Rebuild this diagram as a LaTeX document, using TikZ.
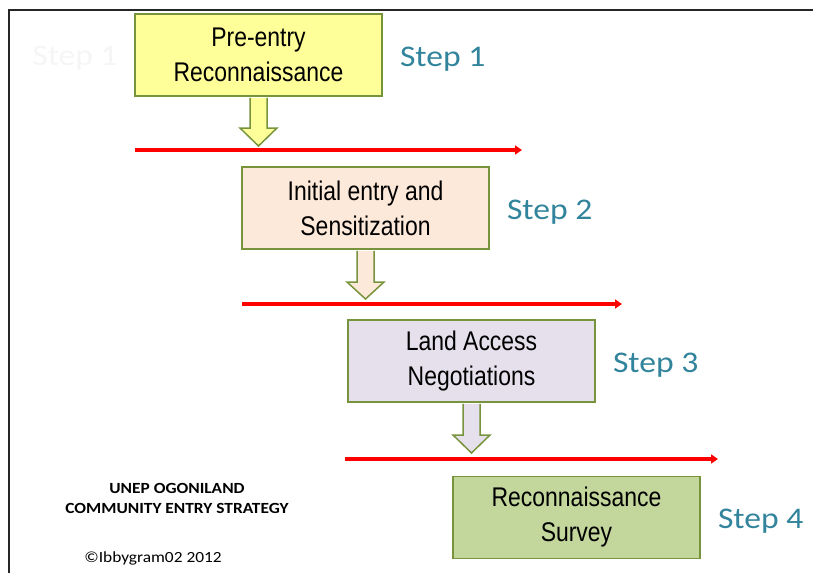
\documentclass[tikz,border=0pt]{standalone}
\usepackage{fontspec}
\setmainfont{Liberation Sans}
\newfontfamily\boxfont[FakeStretch=0.85]{Liberation Sans}
\newfontfamily\stepfont[FakeStretch=1.12]{Carlito}
\usetikzlibrary{positioning, calc, arrows.meta}
\definecolor{boxedge}{HTML}{77933C}
\definecolor{prefill}{HTML}{FFFF99}
\definecolor{initfill}{HTML}{FDE9D9}
\definecolor{landfill}{HTML}{E5E0EC}
\definecolor{surveyfill}{HTML}{C3D69B}
\definecolor{stepblue}{HTML}{31849B}
\tikzstyle{process} = [rectangle, text centered, align=center, draw=boxedge, line width=1.6pt, minimum width=247pt, minimum height=82pt, font=\boxfont\fontsize{27}{35}\selectfont]
\tikzstyle{steplabel} = [text=stepblue, inner sep=2pt, font=\stepfont\fontsize{30}{36}\selectfont]
\tikzstyle{blockarrow} = [draw=boxedge, line width=1.5pt, line join=miter]
\tikzstyle{redline} = [draw=red, line width=3.5pt, -{Triangle[length=7pt,width=9pt]}]

\begin{document}
\begin{tikzpicture}[x=1pt, y=-1pt]
\useasboundingbox (0,0) rectangle (815,573);
% 边框
\draw [line width=1.8pt, black!85] (9,573) -- (9,10) -- (813,10);

% 定义节点
\node (entry) [process, fill=prefill] at (258.5,55) {Pre-entry\\Reconnaissance};
\node (sensit) [process, fill=initfill] at (365.5,208) {Initial entry and\\Sensitization};
\node (nego) [process, fill=landfill] at (471.5,361) {Land Access\\Negotiations};
\node (survey) [process, fill=surveyfill] at (576.5,517.5) {Reconnaissance\\Survey};

\node (step1) [steplabel, right=15pt of entry, yshift=-4pt] {Step 1};
\node (step2) [steplabel, right=15pt of sensit, yshift=-4pt] {Step 2};
\node (step3) [steplabel, right=15pt of nego, yshift=-4pt] {Step 3};
\node (step4) [steplabel, right=15pt of survey, yshift=-4pt] {Step 4};
\node (ghost) [steplabel, text=black!4] at (75,58) {Step 1};

\node (title) [font=\stepfont\bfseries\fontsize{15.5}{20}\selectfont, align=center] at (177,498) {UNEP OGONILAND\\COMMUNITY ENTRY STRATEGY};
\node (credit) [font=\stepfont\fontsize{15.5}{20}\selectfont] at (153,558) {©Ibbygram02 2012};

% 红线
\coordinate (cut1s) at (135,150); \coordinate (cut1e) at (522,150);
\coordinate (cut2s) at (242,304); \coordinate (cut2e) at (622,304);
\coordinate (cut3s) at (345,459); \coordinate (cut3e) at (718,459);
\draw [redline] (cut1s) -- (cut1e);
\draw [redline] (cut2s) -- (cut2e);
\draw [redline] (cut3s) -- (cut3e);

% 添加箭头
\draw [blockarrow, fill=prefill] ($(entry.south)+(-8.5,1)$) -- ($(entry.south |- cut1s)+(-8.5,-22)$) -- ++(-10,0) -- ($(entry.south |- cut1s)+(0,-4)$) -- ($(entry.south |- cut1s)+(18.5,-22)$) -- ++(-10,0) -- ($(entry.south)+(8.5,1)$);
\draw [blockarrow, fill=initfill] ($(sensit.south)+(-8.5,1)$) -- ($(sensit.south |- cut2s)+(-8.5,-22)$) -- ++(-10,0) -- ($(sensit.south |- cut2s)+(0,-5)$) -- ($(sensit.south |- cut2s)+(18.5,-22)$) -- ++(-10,0) -- ($(sensit.south)+(8.5,1)$);
\draw [blockarrow, fill=landfill] ($(nego.south)+(-8.5,1)$) -- ($(nego.south |- cut3s)+(-8.5,-24)$) -- ++(-10,0) -- ($(nego.south |- cut3s)+(0,-6)$) -- ($(nego.south |- cut3s)+(18.5,-24)$) -- ++(-10,0) -- ($(nego.south)+(8.5,1)$);
\end{tikzpicture}
\end{document}
